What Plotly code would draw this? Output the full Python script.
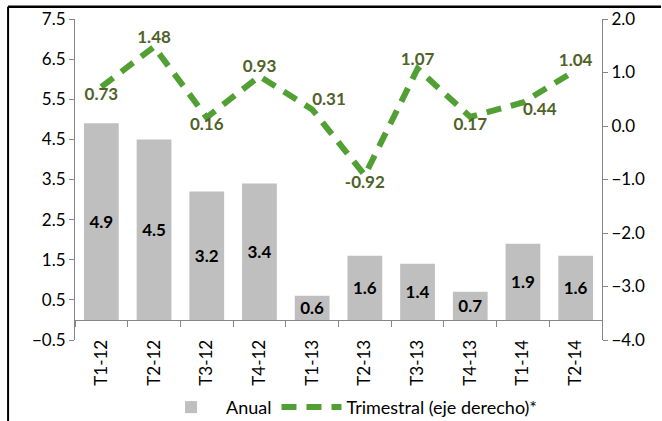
import plotly.graph_objects as go

categories = ["T1-12", "T2-12", "T3-12", "T4-12", "T1-13", "T2-13", "T3-13", "T4-13", "T1-14", "T2-14"]
anual = [4.9, 4.5, 3.2, 3.4, 0.6, 1.6, 1.4, 0.7, 1.9, 1.6]
trimestral = [0.73, 1.48, 0.16, 0.93, 0.31, -0.92, 1.07, 0.17, 0.44, 1.04]
trim_pos = ["bottom center", "top center", "bottom center", "top center", "top right",
            "bottom center", "top center", "bottom center", "bottom right", "top center"]

left_ticks = [-0.5, 0.5, 1.5, 2.5, 3.5, 4.5, 5.5, 6.5, 7.5]
right_ticks = [-4, -3, -2, -1, 0, 1, 2]

FONT = "Lato, 'Open Sans', sans-serif"
AXIS_GRAY = "#868686"

fig = go.Figure()
fig.add_trace(go.Bar(
    x=categories, y=anual, name="Anual",
    marker=dict(color="#BFBFBF", line=dict(width=0)),
    text=[f"{v:.1f}" for v in anual], textposition="inside",
    insidetextanchor="middle", constraintext="none",
    textfont=dict(family=FONT, size=17, color="black", weight="bold"),
    yaxis="y",
))
fig.add_trace(go.Scatter(
    x=categories, y=trimestral, name="Trimestral (eje derecho)*",
    mode="lines+text", yaxis="y2",
    line=dict(color="#52A033", width=6, dash="15px,10px"),
    text=[f"{v:.2f}" for v in trimestral], textposition=trim_pos,
    textfont=dict(family=FONT, size=17, color="#4F6228", weight="bold"),
    cliponaxis=False,
))

fig.update_layout(
    width=662, height=421,
    margin=dict(l=75, r=60, t=19, b=81, autoexpand=False),
    paper_bgcolor="white", plot_bgcolor="white",
    font=dict(family=FONT, size=17, color="black"),
    bargap=0.34,
    showlegend=True,
    legend=dict(orientation="h", x=0.52, xanchor="center", y=-0.21, yanchor="middle",
                font=dict(size=18), bgcolor="rgba(0,0,0,0)", itemwidth=60),
    xaxis=dict(
        type="category", anchor="free", position=0.0623, automargin=False,
        showline=True, linecolor=AXIS_GRAY, linewidth=1,
        ticks="outside", tickson="boundaries", ticklen=6, tickcolor=AXIS_GRAY,
        tickangle=-90, ticklabelstandoff=12, showgrid=False,
        tickfont=dict(size=17),
    ),
    yaxis=dict(
        range=[-0.5, 7.5], tickvals=left_ticks, tickformat=".1f", automargin=False,
        showline=True, linecolor=AXIS_GRAY, linewidth=1,
        ticks="outside", ticklen=5, tickcolor=AXIS_GRAY,
        showgrid=False, zeroline=False, tickfont=dict(size=17),
    ),
    yaxis2=dict(
        range=[-4, 2], tickvals=right_ticks, tickformat=".1f", automargin=False,
        overlaying="y", side="right",
        showline=True, linecolor=AXIS_GRAY, linewidth=1,
        ticks="outside", ticklen=5, tickcolor=AXIS_GRAY,
        showgrid=False, zeroline=False, tickfont=dict(size=17),
    ),
    shapes=[
        dict(type="line", xref="paper", yref="paper", x0=-0.127, x1=1.112, y0=1.038, y1=1.038,
             line=dict(color="black", width=2.5), layer="above"),
        dict(type="line", xref="paper", yref="paper", x0=-0.127, x1=-0.127, y0=-0.26, y1=1.038,
             line=dict(color="black", width=2), layer="above"),
    ],
)

fig.write_html("out.html", config={"displayModeBar": False},
               post_script="document.body.style.margin='0px';document.body.style.overflow='hidden';")
